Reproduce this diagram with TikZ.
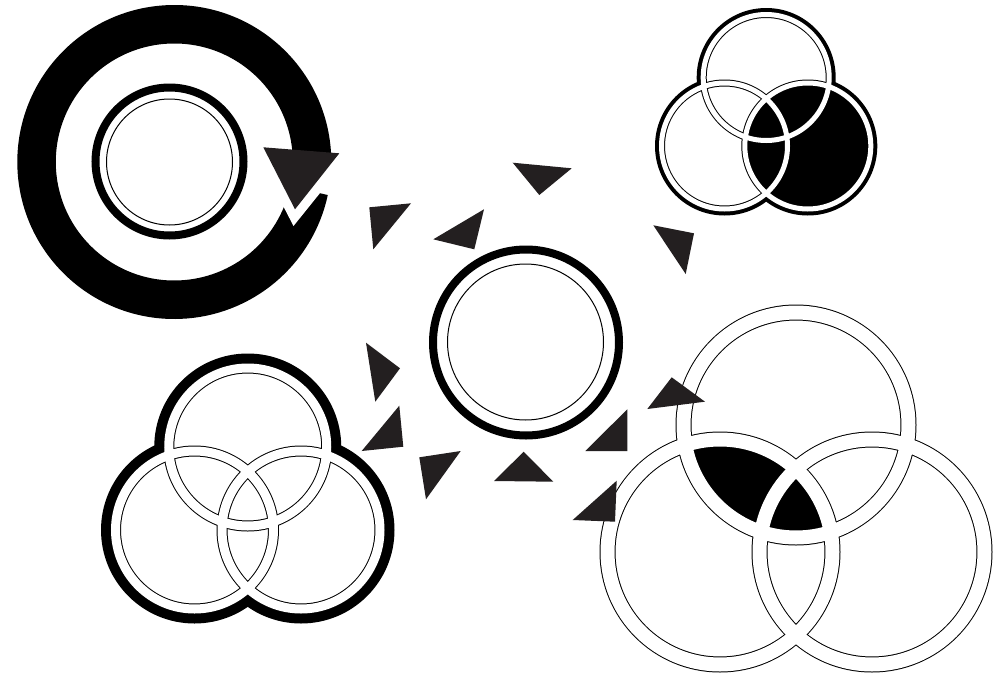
\documentclass[tikz,border=0pt]{standalone}
\definecolor{tri}{RGB}{35,31,32}
\tikzset{
  tri/.style={fill=tri,draw=none},
  thinline/.style={draw=black,line width=1pt},
}
\begin{document}
\begin{tikzpicture}[x=1pt,y=-1pt]
\useasboundingbox[fill=white] (0,0) rectangle (1005,675);

% ---------- top-left: ring with arrow ----------
\coordinate (RC) at (174.3,162);
\coordinate (IC) at (169.5,161.5);
\draw[line width=38.5pt,black] (RC) ++(-2:137.75) arc[start angle=-2,end angle=-348,radius=137.75];
\fill[white] (261,163) -- (341,167) -- (293.5,226) -- cycle;
\fill[tri] (263.3,147.3) -- (339.3,153.3) -- (295,209.3) -- cycle;
\draw[line width=8pt] (IC) circle (74);
\draw[thinline] (169.5,162) circle (63);

% ---------- centre circle ----------
\coordinate (CC) at (526,342.5);
\draw[line width=8pt] (CC) circle (93);
\draw[thinline] (525.5,342) circle (78);

% ---------- top-right venn ----------
\coordinate (tT) at (766.2,77.5);
\coordinate (tL) at (724.5,146);
\coordinate (tR) at (807.8,146);
\foreach \c in {tT,tL,tR} \fill[black] (\c) circle (69.5);
\foreach \c in {tT,tL,tR} \fill[white] (\c) circle (65.5);
\fill[black] (tR) circle (63);
\foreach \c in {tT,tL,tR} \draw[black,line width=7pt] (\c) circle (63);
\foreach \c in {tT,tL,tR} \draw[white,line width=5pt] (\c) circle (63);

% ---------- bottom-left venn ----------
\coordinate (bT) at (247.75,447);
\coordinate (bL) at (194.5,530);
\coordinate (bR) at (301,530);
\foreach \c in {bT,bL,bR} \fill[black] (\c) circle (93.5);
\foreach \c in {bT,bL,bR} \fill[white] (\c) circle (83.5);
\foreach \c in {bT,bL,bR} \draw[black,line width=11pt] (\c) circle (79);
\foreach \c in {bT,bL,bR} \draw[white,line width=9pt] (\c) circle (79);

% ---------- bottom-right venn ----------
\coordinate (rT) at (796,425);
\coordinate (rL) at (720,552);
\coordinate (rR) at (872,552);
\begin{scope}
  \clip (rT) circle (112.5);
  \fill[black] (rL) circle (112.5);
\end{scope}
\foreach \c in {rT,rL,rR} \draw[black,line width=16pt] (\c) circle (112.5);
\foreach \c in {rT,rL,rR} \draw[white,line width=14pt] (\c) circle (112.5);

% ---------- triangles ----------
\fill[tri] (512.7,162.7) -- (571.7,168.3) -- (539.3,195) -- cycle;
\fill[tri] (369.3,207.3) -- (411,203.3) -- (373.3,249.3) -- cycle;
\fill[tri] (433.3,239.3) -- (484,209.3) -- (474.3,249.3) -- cycle;
\fill[tri] (653.3,225.3) -- (694,233.3) -- (685.7,274) -- cycle;
\fill[tri] (366,342.7) -- (400,368.3) -- (375.3,401.7) -- cycle;
\fill[tri] (399.3,405.7) -- (403.3,446.7) -- (361.7,451) -- cycle;
\fill[tri] (419.3,457.3) -- (460.7,451) -- (426,499.3) -- cycle;
\fill[tri] (494,481) -- (523.7,451.7) -- (553.3,481.7) -- cycle;
\fill[tri] (585.3,451) -- (627.3,409.3) -- (627.3,451) -- cycle;
\fill[tri] (647.3,409) -- (671.7,377.3) -- (705,401.7) -- cycle;
\fill[tri] (572.7,520) -- (616.7,480.7) -- (615,521.7) -- cycle;
\end{tikzpicture}
\end{document}
